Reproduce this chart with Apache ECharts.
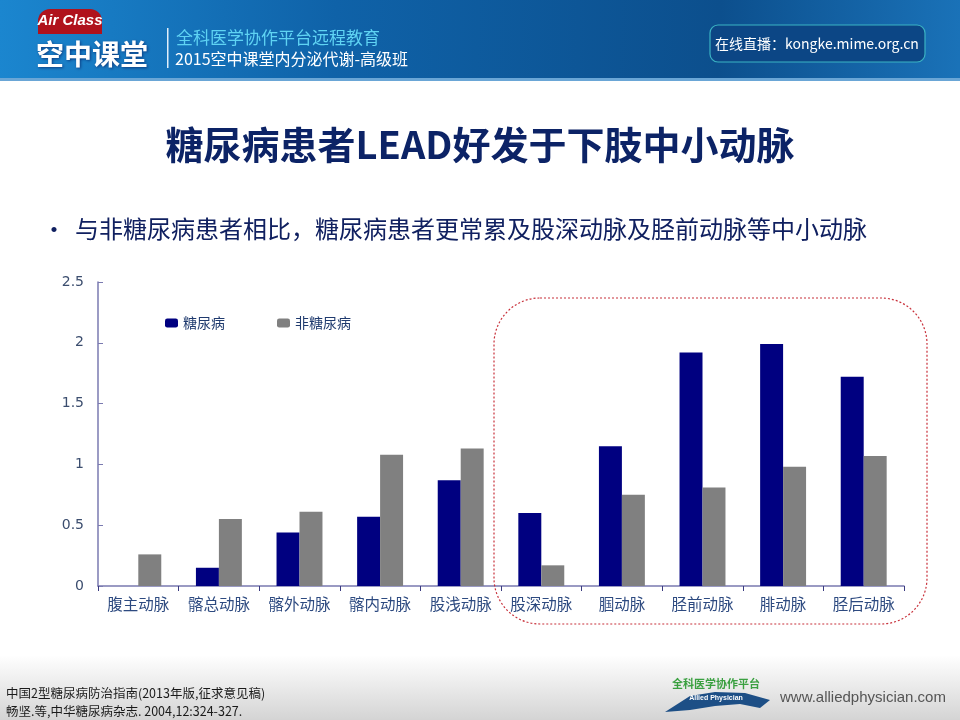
<!DOCTYPE html>
<html><head><meta charset="utf-8">
<script src="https://cdn.jsdelivr.net/npm/echarts@6/dist/echarts.min.js"></script>
<style>html,body{margin:0;padding:0;background:#fff}#c{width:960px;height:720px}</style>
</head><body><div id="c"></div>
<script>
const categories = ['腹主动脉','髂总动脉','髂外动脉','髂内动脉','股浅动脉','股深动脉','腘动脉','胫前动脉','腓动脉','胫后动脉'];
const diabetes = [0, 0.15, 0.44, 0.57, 0.87, 0.60, 1.15, 1.92, 1.99, 1.72];
const nonDiabetes = [0.26, 0.55, 0.61, 1.08, 1.13, 0.17, 0.75, 0.81, 0.98, 1.07];
const seriesNames = ['糖尿病','非糖尿病'];
const yTicks = {min:0, max:2.5, interval:0.5};

const CJK = '"Noto Sans CJK SC", "Noto Sans", sans-serif';
const chart = echarts.init(document.getElementById('c'));
chart.setOption({
  backgroundColor:'#fff',
  animation:false,
  grid:{left:98, right:56, top:282, bottom:134},
  legend:{
    left:160, top:311, itemWidth:13, itemHeight:9, itemGap:52,
    textStyle:{color:'#1f3a6e', fontSize:14, fontFamily:CJK},
    data:seriesNames
  },
  xAxis:{
    type:'category', data:categories,
    axisLine:{lineStyle:{color:'#7a7ab0', width:1.5}},
    axisTick:{show:true, inside:false, length:5, lineStyle:{color:'#3a3a80'}},
    axisLabel:{interval:0, color:'#2d4a80', fontSize:15.5, fontFamily:CJK, margin:10}
  },
  yAxis:{
    type:'value', min:yTicks.min, max:yTicks.max, interval:yTicks.interval,
    splitLine:{show:false},
    axisLine:{show:true, lineStyle:{color:'#7a7ab0', width:1.5}},
    axisTick:{show:true, inside:true, length:5, lineStyle:{color:'#7a7ab0'}},
    axisLabel:{color:'#3b4d6e', fontSize:14, fontFamily:'"DejaVu Sans", sans-serif', margin:14}
  },
  series:[
    {name:seriesNames[0], type:'bar', data:diabetes, barGap:'0%', barCategoryGap:'43%',
     itemStyle:{color:'#000080'}},
    {name:seriesNames[1], type:'bar', data:nonDiabetes,
     itemStyle:{color:'#808080'}}
  ],
  graphic:[
    // header band
    {type:'rect', shape:{x:0,y:0,width:960,height:80}, silent:true,
     style:{fill:new echarts.graphic.LinearGradient(0,0,1,0.3,[
       {offset:0,color:'#1b86cf'},{offset:0.35,color:'#0f62a8'},{offset:0.75,color:'#0c4f8d'},{offset:1,color:'#1a72b8'}])}},
    {type:'rect', shape:{x:0,y:78,width:960,height:3}, silent:true, style:{fill:'#6aa6d6'}},
    // logo
    {type:'rect', shape:{x:38,y:9,width:64,height:25,r:[12,12,0,0]}, style:{fill:'#b0121c'}},
    {type:'text', style:{text:'Air Class', x:70, y:21, fill:'#fff', font:'italic bold 15px "Liberation Sans", sans-serif', textAlign:'center', textVerticalAlign:'middle'}},
    {type:'text', style:{text:'空中课堂', x:92, y:54, fill:'#fff', font:'bold 28px "Noto Sans CJK SC", serif', textAlign:'center', textVerticalAlign:'middle', textShadowColor:'#0a3a80', textShadowBlur:3, textShadowOffsetX:1, textShadowOffsetY:1}},
    {type:'rect', shape:{x:167,y:28,width:1.5,height:40}, style:{fill:'#e0eefa'}},
    {type:'text', style:{text:'全科医学协作平台远程教育', x:176, y:38, fill:'#5fd3f3', font:'17px '+CJK, textVerticalAlign:'middle'}},
    {type:'text', style:{text:'2015空中课堂内分泌代谢-高级班', x:175, y:59, fill:'#ffffff', font:'16px '+CJK, textVerticalAlign:'middle'}},
    {type:'rect', shape:{x:710,y:25,width:215,height:37,r:8}, style:{fill:'#0c4685', stroke:'#3bb3c3', lineWidth:1.2}},
    {type:'text', style:{text:'在线直播：kongke.mime.org.cn', x:817, y:44, fill:'#ffffff', font:'14px '+CJK, textAlign:'center', textVerticalAlign:'middle'}},
    // title
    {type:'text', style:{text:'糖尿病患者LEAD好发于下肢中小动脉', x:480, y:145, fill:'#0c2366', font:'bold 38px '+CJK, textAlign:'center', textVerticalAlign:'middle'}},
    {type:'text', style:{text:'•', x:42, y:229, fill:'#102060', font:'24px '+CJK, textVerticalAlign:'middle'}},
    {type:'text', style:{text:'与非糖尿病患者相比，糖尿病患者更常累及股深动脉及胫前动脉等中小动脉', x:75, y:229, fill:'#102060', font:'24px '+CJK, textVerticalAlign:'middle'}},
    // dotted highlight box
    {type:'rect', shape:{x:494,y:298,width:433,height:326,r:46}, silent:true, z:10,
     style:{fill:'none', stroke:'#c8303a', lineWidth:1.2, lineDash:[2,2]}},
    // footer
    {type:'rect', shape:{x:0,y:655,width:960,height:65}, silent:true, z:-1,
     style:{fill:new echarts.graphic.LinearGradient(0,0,0,1,[{offset:0,color:'#ffffff'},{offset:1,color:'#d4d4d4'}])}},
    {type:'text', style:{text:'中国2型糖尿病防治指南(2013年版,征求意见稿)', x:6, y:693, fill:'#1a1a1a', font:'12.5px '+CJK, textVerticalAlign:'middle'}},
    {type:'text', style:{text:'畅坚.等,中华糖尿病杂志. 2004,12:324-327.', x:6, y:711, fill:'#1a1a1a', font:'12.5px '+CJK, textVerticalAlign:'middle'}},
    {type:'text', style:{text:'全科医学协作平台', x:716, y:684, fill:'#3aa040', font:'bold 11px '+CJK, textAlign:'center', textVerticalAlign:'middle'}},
    {type:'polygon', shape:{points:[[665,712],[690,696],[715,692],[745,693],[770,700],[760,708],[740,704],[715,706],[690,710]]}, style:{fill:'#1d4f86'}},
    {type:'text', style:{text:'Allied Physician', x:716, y:698, fill:'#ffffff', font:'bold 7px "Liberation Sans", sans-serif', textAlign:'center', textVerticalAlign:'middle'}},
    {type:'text', style:{text:'www.alliedphysician.com', x:780, y:698, fill:'#555555', font:'15px "Liberation Sans", sans-serif', textVerticalAlign:'middle'}}
  ]
});
</script></body></html>
